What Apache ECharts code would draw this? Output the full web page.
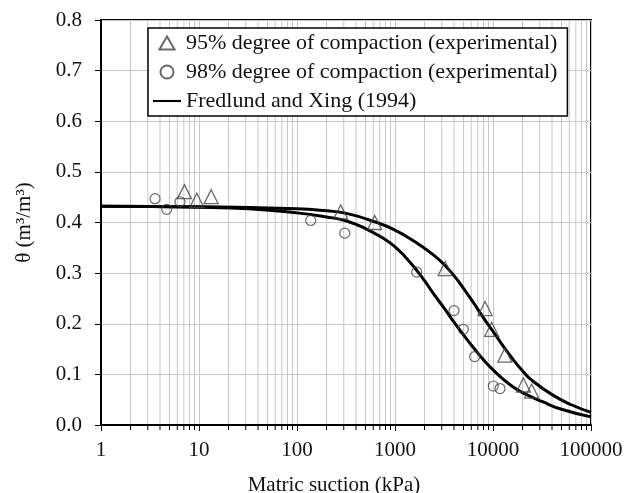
<!DOCTYPE html>
<html>
<head>
<meta charset="utf-8">
<script src="https://cdn.jsdelivr.net/npm/echarts@6/dist/echarts.min.js"></script>
<style>
html,body{margin:0;padding:0;background:#fff;}
#chart{width:626px;height:493px;}
</style>
</head>
<body>
<div id="chart"></div>
<script>
// ---- data ----
const xTickLabels = ['1', '10', '100', '1000', '10000', '100000'];
const yTickLabels = ['0.0', '0.1', '0.2', '0.3', '0.4', '0.5', '0.6', '0.7', '0.8'];
const minorTicks = [2,3,4,5,6,7,8,9, 20,30,40,50,60,70,80,90, 200,300,400,500,600,700,800,900,
  2000,3000,4000,5000,6000,7000,8000,9000, 20000,30000,40000,50000,60000,70000,80000,90000];

// 95% degree of compaction (experimental)
const suction95 = [7.1, 9.5, 13.3, 279, 620, 3250, 8300, 9700, 13200, 20400, 24800];
const theta95   = [0.461, 0.444, 0.451, 0.421, 0.400, 0.309, 0.230, 0.189, 0.138, 0.079, 0.067];

// 98% degree of compaction (experimental)
const suction98 = [3.56, 4.68, 6.4, 138, 307, 1665, 4000, 4980, 6500, 10070, 11800];
const theta98   = [0.447, 0.426, 0.441, 0.404, 0.379, 0.302, 0.226, 0.189, 0.135, 0.077, 0.072];

// Fredlund and Xing (1994) fitted curves
const fitSuctionA = [1, 10, 100, 200, 320, 630, 1000, 1600, 2500, 3200, 4000, 5000, 6300, 7900, 10000, 12600, 15800, 20000, 25000, 40000, 63000, 100000];
const fitThetaA   = [0.432, 0.431, 0.427, 0.423, 0.418, 0.401, 0.385, 0.362, 0.335, 0.316, 0.295, 0.270, 0.242, 0.213, 0.185, 0.157, 0.131, 0.107, 0.088, 0.060, 0.040, 0.025];
const fitSuctionB = [1, 10, 32, 100, 200, 320, 500, 800, 1000, 1260, 1580, 2000, 2500, 3200, 4000, 5000, 6300, 7900, 10000, 12600, 15800, 20000, 32000, 50000, 100000];
const fitThetaB   = [0.432, 0.430, 0.427, 0.419, 0.411, 0.403, 0.388, 0.366, 0.352, 0.333, 0.311, 0.285, 0.258, 0.230, 0.203, 0.178, 0.153, 0.130, 0.109, 0.091, 0.076, 0.064, 0.046, 0.031, 0.016];

const seriesNames = ['95% degree of compaction (experimental)', '98% degree of compaction (experimental)', 'Fredlund and Xing (1994)'];

const zip = (a, b) => a.map((v, i) => [v, b[i]]);
const FONT = '"Liberation Serif", "Times New Roman", serif';

const chart = echarts.init(document.getElementById('chart'), null, {renderer: 'canvas'});
chart.setOption({
  backgroundColor: '#fff',
  animation: false,
  textStyle: {fontFamily: FONT},
  grid: {left: 101, right: 35, top: 20, bottom: 68, show: true, borderColor: '#000', borderWidth: 2,
    backgroundColor: 'transparent', containLabel: false, outerBoundsMode: 'none'},
  legend: {
    orient: 'vertical',
    left: 148, top: 28,
    padding: [4, 10, 4, 5],
    itemGap: 7,
    itemWidth: 28, itemHeight: 13,
    backgroundColor: '#fff',
    borderColor: '#000', borderWidth: 1.5,
    textStyle: {fontFamily: FONT, fontSize: 22, color: '#111'},
    data: [
      {name: seriesNames[0], icon: 'path://M7,0L14,12L0,12Z'},
      {name: seriesNames[1], icon: 'circle'},
      {name: seriesNames[2], icon: 'path://M0,0L40,0L40,3L0,3Z'}
    ]
  },
  xAxis: {
    type: 'log', logBase: 10, min: 1, max: 100000,
    name: 'Matric suction (kPa)', nameLocation: 'middle', nameGap: 50,
    nameTextStyle: {fontFamily: FONT, fontSize: 21, color: '#111', padding: [0, 24, 0, 0]},
    axisLine: {lineStyle: {color: '#000', width: 2}},
    axisTick: {inside: false, length: 6, lineStyle: {color: '#000', width: 1}},
    axisLabel: {fontFamily: FONT, fontSize: 21, color: '#111', margin: 15,
      formatter: v => { const i = Math.round(Math.log10(v)); return xTickLabels[i] !== undefined ? xTickLabels[i] : ''; }},
    splitLine: {show: true, lineStyle: {color: '#c8c8c8', width: 1}}
  },
  yAxis: {
    type: 'value', min: 0, max: 0.8, interval: 0.1,
    name: 'θ (m³/m³)', nameLocation: 'middle', nameGap: 66,
    nameTextStyle: {fontFamily: FONT, fontSize: 21, color: '#111'},
    axisLine: {lineStyle: {color: '#000', width: 2}},
    axisTick: {inside: false, length: 6, lineStyle: {color: '#000', width: 1}},
    axisLabel: {fontFamily: FONT, fontSize: 21, color: '#111', margin: 19,
      formatter: v => yTickLabels[Math.round(v * 10)]},
    splitLine: {show: true, lineStyle: {color: '#c8c8c8', width: 1}}
  },
  series: [
    {
      name: 'minor', type: 'custom', silent: true, clip: false, z: 1,
      data: minorTicks.map(v => [v, 0]),
      renderItem: (params, api) => {
        const x = api.value(0);
        const b = api.coord([x, 0]);
        const t = api.coord([x, 0.8]);
        return {type: 'group', children: [
          {type: 'line', shape: {x1: b[0], y1: b[1] - 1, x2: t[0], y2: t[1] + 1}, style: {stroke: '#c8c8c8', lineWidth: 1}},
          {type: 'line', shape: {x1: b[0], y1: b[1], x2: b[0], y2: b[1] + 5}, style: {stroke: '#000', lineWidth: 1}}
        ]};
      }
    },
    {
      name: seriesNames[2], type: 'line', data: zip(fitSuctionA, fitThetaA),
      symbol: 'none', smooth: 0.5, z: 3,
      lineStyle: {color: '#000', width: 3}, itemStyle: {color: '#000'}
    },
    {
      name: seriesNames[2], type: 'line', data: zip(fitSuctionB, fitThetaB),
      symbol: 'none', smooth: 0.5, z: 3,
      lineStyle: {color: '#000', width: 3}, itemStyle: {color: '#000'}
    },
    {
      name: seriesNames[0], type: 'scatter', data: zip(suction95, theta95),
      symbol: 'triangle', symbolSize: 14, z: 4,
      itemStyle: {color: 'rgba(255,255,255,0)', borderColor: '#444', borderWidth: 1.3}
    },
    {
      name: seriesNames[1], type: 'scatter', data: zip(suction98, theta98),
      symbol: 'circle', symbolSize: 10, z: 4,
      itemStyle: {color: 'rgba(255,255,255,0)', borderColor: '#444', borderWidth: 1.2}
    }
  ]
});
</script>
</body>
</html>
